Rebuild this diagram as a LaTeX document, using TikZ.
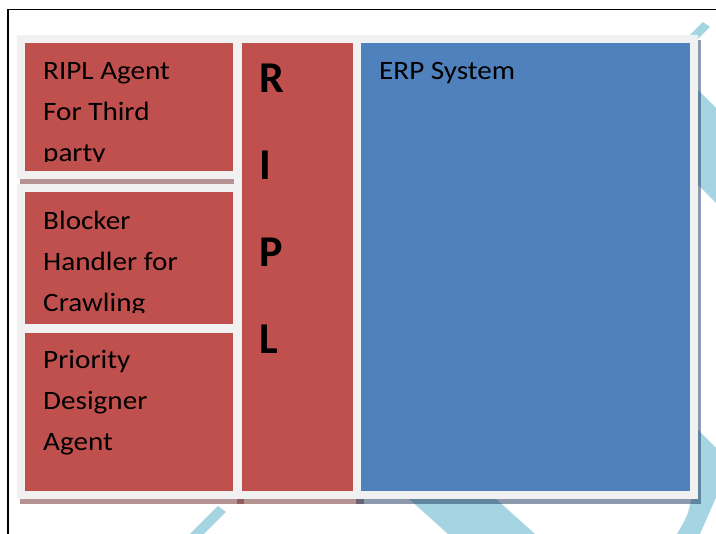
\documentclass[tikz,border=0pt]{standalone}
\usepackage{fontspec}
\setmainfont{Carlito}
\definecolor{boxred}{RGB}{192,80,77}
\definecolor{boxblue}{RGB}{79,129,189}
\definecolor{panelgray}{RGB}{241,241,241}
\definecolor{aqua}{RGB}{165,213,226}
\definecolor{redshadow}{RGB}{110,40,40}
\definecolor{blueshadow}{RGB}{29,55,93}
\tikzset{
  bandfill/.style={fill=aqua},
  shadowred/.style={fill=redshadow, fill opacity=0.5},
  shadowblue/.style={fill=blueshadow, fill opacity=0.5},
  panel/.style={fill=panelgray},
  redfill/.style={fill=boxred},
  bluefill/.style={fill=boxblue},
  txt/.style={inner sep=0pt, anchor=base west, xscale=1.1, transform shape, font=\fontsize{26.5}{30}\selectfont},
  bigtxt/.style={inner sep=0pt, anchor=base west, font=\fontsize{44}{50}\selectfont\bfseries},
}
\begin{document}
\begin{tikzpicture}[x=1pt,y=-1pt]
\useasboundingbox (0,0) rectangle (716,534);
\fill[white] (0,0) rectangle (716,534);
% background light blue bands (mostly hidden)
\begin{scope}
\clip (0,0) rectangle (716,534);
\path[bandfill] (703,22) -- (710,27) -- (600,137) -- (593,130) -- cycle;
\path[bandfill] (650,42) -- (740,132) -- (740,227) -- (650,137) -- cycle;
\path[bandfill] (680,412) -- (731,463) -- (700,534) -- (677,534) .. controls (688,515) .. (692,495) -- cycle;
\path[bandfill] (388,480) -- (448,534) -- (535,534) -- (475,480) -- cycle;
\path[bandfill] (218,506) -- (226,512) -- (204,534) -- (190,534) -- cycle;
\end{scope}
% frame
\draw[line width=1.6pt, black] (8,534) -- (8,9.5) -- (716,9.5);
% shadows
\path[shadowred] (20,40.5) rectangle (244,184.5);
\path[shadowred] (20,190) rectangle (244,337.5);
\path[shadowred] (20,330.5) rectangle (244,504.5);
\path[shadowred] (237,40.5) rectangle (364,504.5);
\path[shadowblue] (356,40.5) rectangle (701,504.5);
% panels
\path[panel] (17,35) rectangle (241,179);
\path[redfill] (25,43) rectangle (233,171);
\path[panel] (17,184.5) rectangle (241,332);
\path[redfill] (25,192.5) rectangle (233,324);
\path[panel] (17,325) rectangle (241,499);
\path[redfill] (25,333) rectangle (233,491);
\path[panel] (234,35) rectangle (361,499);
\path[redfill] (242,43) rectangle (353,491);
\path[panel] (353,35) rectangle (698,499);
\path[bluefill] (361,43) rectangle (690,491);
% texts
\begin{scope}
\clip (25,43) rectangle (233,161.5);
\node[txt] (a1) at (43,79.3) {RIPL Agent};
\node[txt] (a2) at (43,120.3) {For Third};
\node[txt] (a3) at (43,161.3) {party};
\end{scope}
\begin{scope}
\clip (25,192.5) rectangle (233,313);
\node[txt] (b1) at (43,230) {Blocker};
\node[txt] (b2) at (43,271) {Handler for};
\node[txt] (b3) at (43,312) {Crawling};
\end{scope}
\node[txt] (c1) at (43,368.3) {Priority};
\node[txt] (c2) at (43,409.5) {Designer};
\node[txt] (c3) at (43,450.7) {Agent};
\node[bigtxt] (r1) at (259.5,93) {R};
\node[bigtxt] (r2) at (259.5,180) {I};
\node[bigtxt] (r3) at (259.5,267) {P};
\node[bigtxt] (r4) at (259.5,354) {L};
\node[txt] (erp) at (379,79.3) {ERP System};
\end{tikzpicture}
\end{document}
